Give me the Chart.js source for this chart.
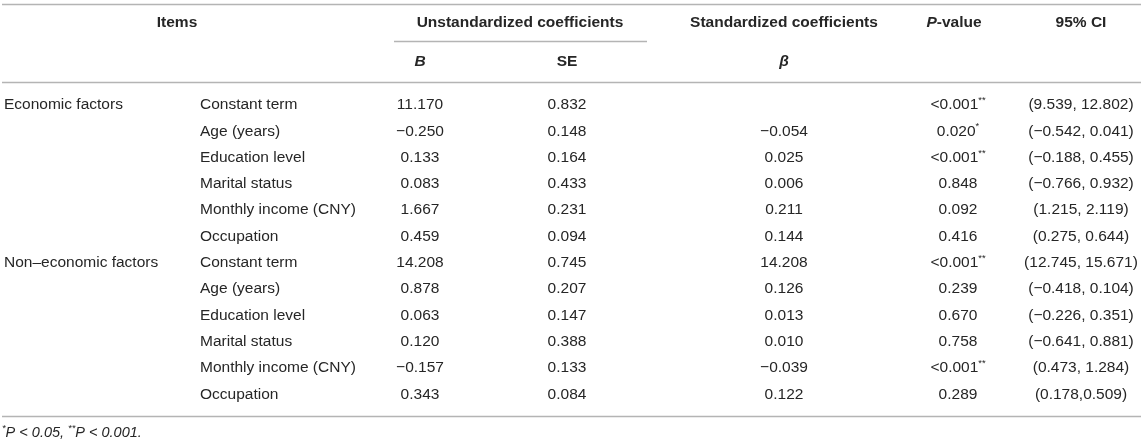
<!DOCTYPE html>
<html lang="en">
<head>
    <meta charset="UTF-8">
    <title>Regression table</title>
    <script src="https://cdn.jsdelivr.net/npm/chart.js"></script>
    <style>
        html, body { margin: 0; padding: 0; background: #fff; }
        .wrap { width: 1146px; height: 444px; position: relative; }
    </style>
</head>
<body>
    <div class="wrap"><canvas id="tableChart"></canvas></div>

    <script>
        // table data
        const groups = ['Economic factors', 'Non\u2013economic factors'];
        const groupRows = [0, 6];
        const items = [
            'Constant term', 'Age (years)', 'Education level', 'Marital status', 'Monthly income (CNY)', 'Occupation',
            'Constant term', 'Age (years)', 'Education level', 'Marital status', 'Monthly income (CNY)', 'Occupation'
        ];
        const bValues = [11.170, -0.250, 0.133, 0.083, 1.667, 0.459, 14.208, 0.878, 0.063, 0.120, -0.157, 0.343];
        const seValues = [0.832, 0.148, 0.164, 0.433, 0.231, 0.094, 0.745, 0.207, 0.147, 0.388, 0.133, 0.084];
        const betaValues = [null, -0.054, 0.025, 0.006, 0.211, 0.144, 14.208, 0.126, 0.013, 0.010, -0.039, 0.122];
        const pValues = ['<0.001', '0.020', '<0.001', '0.848', '0.092', '0.416', '<0.001', '0.239', '0.670', '0.758', '<0.001', '0.289'];
        const pStars = ['**', '*', '**', '', '', '', '**', '', '', '', '**', ''];
        const ciLabels = [
            '(9.539, 12.802)', '(\u22120.542, 0.041)', '(\u22120.188, 0.455)', '(\u22120.766, 0.932)', '(1.215, 2.119)', '(0.275, 0.644)',
            '(12.745, 15.671)', '(\u22120.418, 0.104)', '(\u22120.226, 0.351)', '(\u22120.641, 0.881)', '(0.473, 1.284)', '(0.178,0.509)'
        ];

        // layout (pixels across, row units down)
        const COL = { group: 4, item: 200, b: 420, se: 567, beta: 784, p: 958, ci: 1081 };
        const HEAD = { items: 177, unstd: 520, std: 784, p: 954, ci: 1081 };
        const ROW = { head1: -3.118, head2: -1.635, top: -3.84, under: -2.433, headLine: -0.875, bottom: 11.825, note: 12.47 };

        const FAMILY = '"Liberation Sans", Arial, sans-serif';
        const SZ = 15.5;
        const F = {
            normal: `${SZ}px ${FAMILY}`,
            bold: `bold ${SZ}px ${FAMILY}`,
            boldItalic: `italic bold ${SZ}px ${FAMILY}`,
            italic: `italic 14.5px ${FAMILY}`,
            sup: `${SZ * 0.6}px ${FAMILY}`
        };
        const TEXT = '#262626';

        const fmt = v => v === null ? '' : v.toFixed(3).replace('-', '\u2212');
        const plain = t => t ? [{ t: t, f: F.normal }] : null;

        function column(x, cells, align) {
            return {
                data: cells.map((c, i) => ({ x: x, y: i })),
                cells: cells,
                align: align || 'center',
                pointRadius: 0,
                showLine: false
            };
        }

        const headerCells = [
            { x: HEAD.items, y: ROW.head1, seg: [{ t: 'Items', f: F.bold }] },
            { x: HEAD.unstd, y: ROW.head1, seg: [{ t: 'Unstandardized coefficients', f: F.bold }] },
            { x: HEAD.std, y: ROW.head1, seg: [{ t: 'Standardized coefficients', f: F.bold }] },
            { x: HEAD.p, y: ROW.head1, seg: [{ t: 'P', f: F.boldItalic }, { t: '-value', f: F.bold }] },
            { x: HEAD.ci, y: ROW.head1, seg: [{ t: '95% CI', f: F.bold }] },
            { x: COL.b, y: ROW.head2, seg: [{ t: 'B', f: F.boldItalic }] },
            { x: COL.se, y: ROW.head2, seg: [{ t: 'SE', f: F.bold }] },
            { x: COL.beta, y: ROW.head2, seg: [{ t: '\u03b2', f: F.boldItalic }] }
        ];

        const datasets = [
            {
                data: headerCells.map(h => ({ x: h.x, y: h.y })),
                cells: headerCells.map(h => h.seg),
                align: 'center', pointRadius: 0, showLine: false
            },
            {
                data: groupRows.map(r => ({ x: COL.group, y: r })),
                cells: groups.map(plain),
                align: 'left', pointRadius: 0, showLine: false
            },
            column(COL.item, items.map(plain), 'left'),
            column(COL.b, bValues.map(v => plain(fmt(v)))),
            column(COL.se, seValues.map(v => plain(fmt(v)))),
            column(COL.beta, betaValues.map(v => plain(fmt(v)))),
            column(COL.p, pValues.map((p, i) => {
                const seg = [{ t: p, f: F.normal }];
                if (pStars[i]) seg.push({ t: pStars[i], f: F.sup, sup: true });
                return seg;
            })),
            column(COL.ci, ciLabels.map(plain)),
            {
                data: [{ x: 2, y: ROW.note }],
                cells: [[
                    { t: '*', f: `italic ${SZ * 0.6}px ${FAMILY}`, sup: true },
                    { t: 'P < 0.05, ', f: F.italic },
                    { t: '**', f: `italic ${SZ * 0.6}px ${FAMILY}`, sup: true },
                    { t: 'P < 0.001.', f: F.italic }
                ]],
                align: 'left', pointRadius: 0, showLine: false
            }
        ];

        function drawSegments(ctx, seg, x, y, align) {
            let total = 0;
            seg.forEach(s => { ctx.font = s.f; s.w = ctx.measureText(s.t).width; total += s.w; });
            let cx = align === 'center' ? x - total / 2 : x;
            seg.forEach(s => {
                ctx.font = s.f;
                ctx.fillText(s.t, cx, s.sup ? y - 4.5 : y);
                cx += s.w;
            });
        }

        const tablePlugin = {
            id: 'tableText',
            afterDatasetsDraw(chart) {
                const { ctx, scales: { x, y } } = chart;
                ctx.save();

                // horizontal rules
                ctx.strokeStyle = '#b4b4b4';
                ctx.lineWidth = 1.5;
                const rule = (x0, x1, row) => {
                    const py = Math.round(y.getPixelForValue(row)) + 0.5;
                    ctx.beginPath();
                    ctx.moveTo(x.getPixelForValue(x0), py);
                    ctx.lineTo(x.getPixelForValue(x1), py);
                    ctx.stroke();
                };
                rule(2, 1141, ROW.top);
                rule(394, 647, ROW.under);
                rule(2, 1141, ROW.headLine);
                rule(2, 1141, ROW.bottom);

                ctx.fillStyle = TEXT;
                ctx.textBaseline = 'middle';
                ctx.textAlign = 'left';
                chart.data.datasets.forEach((ds, di) => {
                    const meta = chart.getDatasetMeta(di);
                    meta.data.forEach((pt, i) => {
                        const seg = ds.cells[i];
                        if (!seg) return;
                        drawSegments(ctx, seg, pt.x, pt.y, ds.align);
                    });
                });
                ctx.restore();
            }
        };

        new Chart(document.getElementById('tableChart'), {
            type: 'scatter',
            data: { datasets: datasets },
            options: {
                responsive: true,
                maintainAspectRatio: false,
                animation: false,
                layout: { padding: 0 },
                plugins: { legend: { display: false }, tooltip: { enabled: false } },
                scales: {
                    x: { type: 'linear', min: 0, max: 1146, display: false },
                    y: { type: 'linear', min: -3.992, max: 12.89, reverse: true, display: false }
                }
            },
            plugins: [tablePlugin]
        });
    </script>
</body>
</html>
